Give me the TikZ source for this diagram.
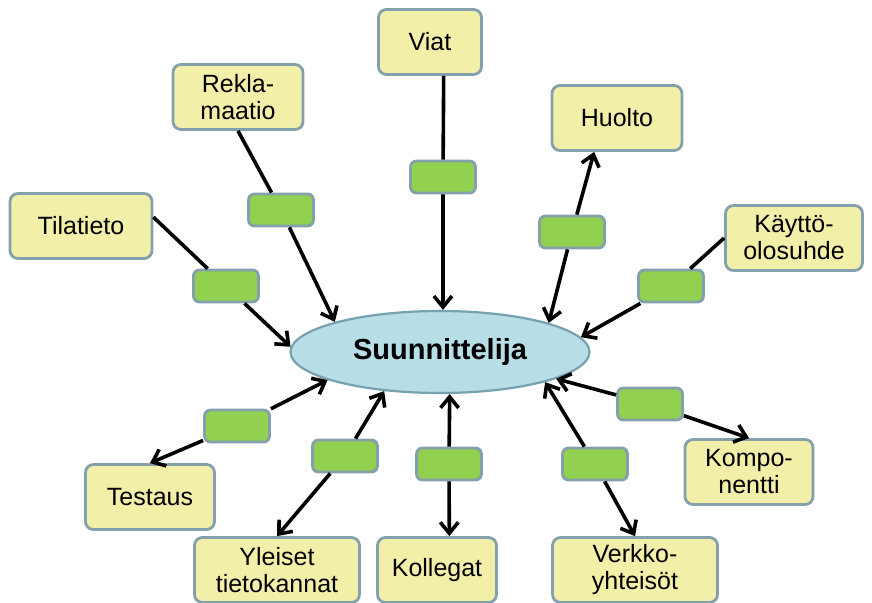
\documentclass[tikz,border=0pt]{standalone}
\usepackage{fontspec}
\setmainfont{Liberation Sans}
\usetikzlibrary{positioning,shapes.geometric,arrows.meta}
\definecolor{boxyellow}{RGB}{242,240,168}
\definecolor{edgeblue}{RGB}{132,160,172}
\definecolor{taggreen}{RGB}{146,208,80}
\definecolor{hubblue}{RGB}{183,221,230}
\definecolor{hubedge}{RGB}{118,162,174}

\begin{document}
\begin{tikzpicture}
    [x=1pt,y=-1pt,
     box/.style={draw=edgeblue, line width=2.8pt, fill=boxyellow, rounded corners=8pt, minimum height=65pt, inner sep=0pt, align=center, font=\fontsize{25}{27}\selectfont},
     tag/.style={draw=edgeblue, line width=2.8pt, fill=taggreen, rounded corners=6pt, minimum width=65pt, minimum height=32pt, inner sep=0pt},
     hub/.style={ellipse, draw=hubedge, line width=2.2pt, fill=hubblue, minimum width=299pt, minimum height=82pt, inner sep=0pt, font=\fontsize{29}{31}\selectfont\bfseries},
     link/.style={line width=3.6pt},
     >={Straight Barb[length=11pt,width=18pt]}]
  \useasboundingbox (0,0) rectangle (872,602);

  \node[hub] (hub) at (440,352) {Suunnittelija};

  \node[box, minimum width=103pt] (viat) at (430,42) {Viat};
  \node[box, minimum width=130pt] (rekl) at (238,97) {Rekla-\\maatio};
  \node[box, minimum width=130pt] (huol) at (617,118) {Huolto};
  \node[box, minimum width=142pt] (tila) at (81,226) {Tilatieto};
  \node[box, minimum width=137pt] (kayt) at (794,238) {Käyttö-\\olosuhde};
  \node[box, minimum width=129pt] (test) at (150,497) {Testaus};
  \node[box, minimum width=128pt] (komp) at (749,472) {Kompo-\\nentti};
  \node[box, minimum width=165pt] (ylei) at (277,570) {Yleiset\\tietokannat};
  \node[box, minimum width=119pt] (koll) at (437,570) {Kollegat};
  \node[box, minimum width=165pt] (verk) at (635,570) {Verkko-\\yhteisöt};

  \node[tag] (gviat) at (443,177) {};
  \node[tag] (grekl) at (281,210) {};
  \node[tag] (ghuol) at (572,232) {};
  \node[tag] (gtila) at (226,286) {};
  \node[tag] (gkayt) at (671,286) {};
  \node[tag] (gtest) at (237,426) {};
  \node[tag] (gkomp) at (650,404) {};
  \node[tag] (gylei) at (345,456) {};
  \node[tag] (gkoll) at (449,464) {};
  \node[tag] (gverk) at (595,464) {};

  % one way, into the hub
  \foreach \from/\via/\to in {viat.292/gviat/86, rekl.south/grekl/164, tila.7/gtila/178, kayt.west/gkayt/6}
    \draw[link] (\from) -- (\via) edge[->] (hub.\to);

  % both ways
  \foreach \from/\via/\to in {huol.236/ghuol/15, test.north/gtest/194, ylei.north/gylei/215, koll.70/gkoll/283, verk.north/gverk/344, komp.north/gkomp/347}
    \draw[link] (\via) edge[->] (\from) edge[->] (hub.\to);
\end{tikzpicture}
\end{document}
